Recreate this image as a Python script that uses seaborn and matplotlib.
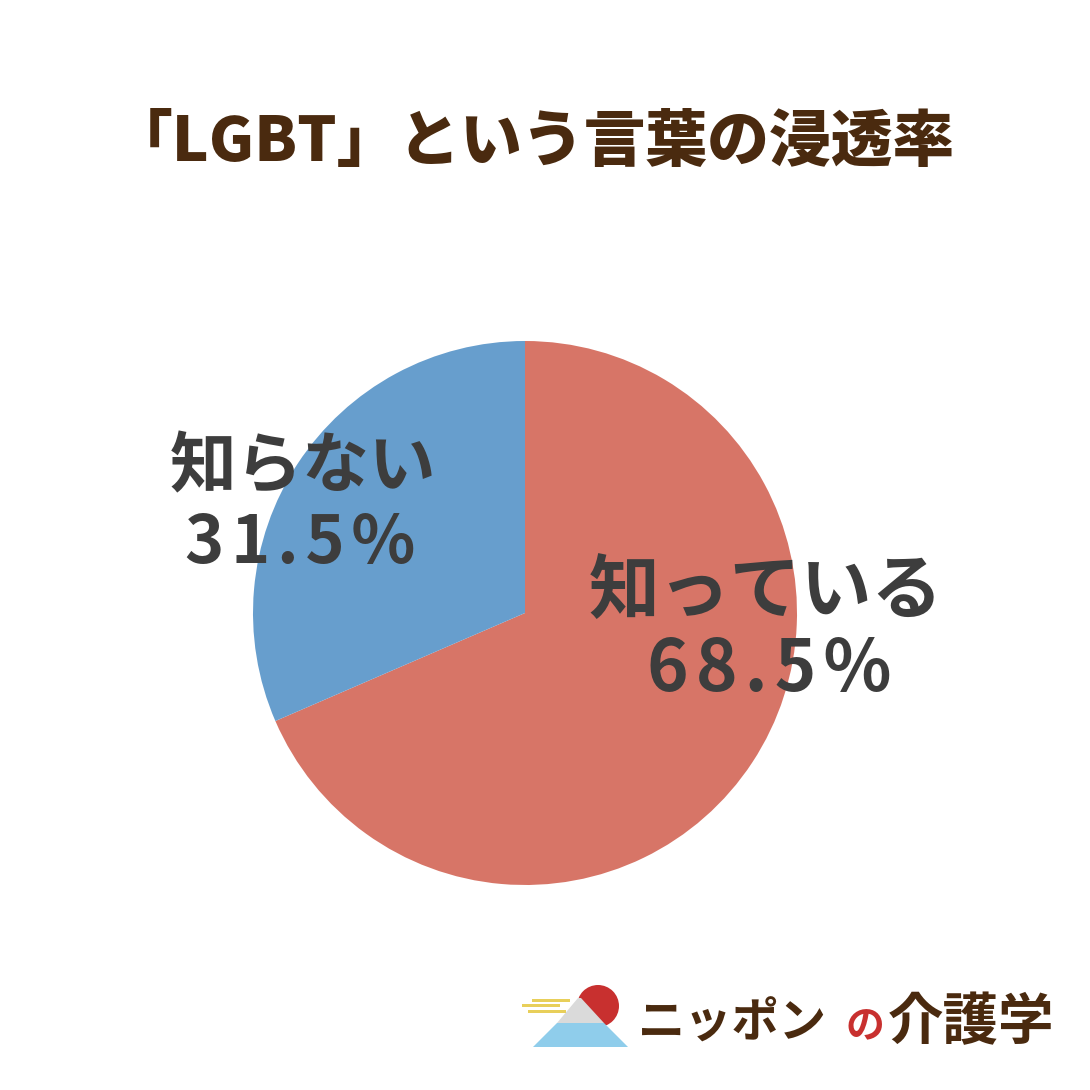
import matplotlib
matplotlib.use("Agg")
import matplotlib.pyplot as plt
import seaborn as sns
from matplotlib.patches import Circle, Polygon, Rectangle

sns.set_theme(style="white")
plt.rcParams['font.family'] = ['Noto Sans CJK JP', 'DejaVu Sans']

# data
labels = ["知っている", "知らない"]
values = [68.5, 31.5]
colors = ["#D77567", "#679ECD"]

title = "「LGBT」という言葉の浸透率"
W = H = 1090

fig = plt.figure(figsize=(10.9, 10.9), dpi=100)
fig.patch.set_facecolor("white")

# pie: centre (525, 613) px, radius 272 px
cx, cy, r = 525 / W, 1 - 613 / H, 272 / W
ax = fig.add_axes([cx - r, cy - r, 2 * r, 2 * r])
wedges, _ = ax.pie(values, colors=colors, startangle=90, counterclock=False,
                   radius=1, wedgeprops=dict(linewidth=0))
ax.set_xlim(-1, 1)
ax.set_ylim(-1, 1)
ax.set_aspect("equal")
ax.axis("off")

txt_col = "#3D3D3D"
def px(x, y):
    return x / W, 1 - y / H

def spaced(s):
    # wider tracking like the reference numbers
    return "\u200a".join(s)

fig.text(*px(766, 592), labels[0], ha="center", va="center", fontsize=51,
         fontweight="bold", color=txt_col)
fig.text(*px(769, 670), spaced(f"{values[0]}%"), ha="center", va="center",
         fontsize=51, fontweight="bold", color=txt_col)
fig.text(*px(303, 468), labels[1], ha="center", va="center", fontsize=48,
         fontweight="bold", color=txt_col)
fig.text(*px(300, 543), spaced(f"{values[1]}%"), ha="center", va="center",
         fontsize=48, fontweight="bold", color=txt_col)

fig.text(*px(533, 143), title, ha="center", va="center", fontsize=44.5,
         fontweight="heavy", color="#4A2A0F")

# logo
la = fig.add_axes([0, 0, 1, 1], zorder=5)
la.set_xlim(0, W)
la.set_ylim(H, 0)
la.axis("off")
la.patch.set_alpha(0)
la.add_patch(Circle((598, 1006), 21, color="#C8302F", lw=0))
la.add_patch(Polygon([(533, 1047), (628, 1047), (604, 1023), (557, 1023)],
                     closed=True, color="#8FCDEB", lw=0))
la.add_patch(Polygon([(557, 1023), (604, 1023), (581, 998), (578, 998)],
                     closed=True, color="#DADADA", lw=0))
for (x0, x1, y) in [(532, 570, 1000), (522, 560, 1005), (528, 566, 1011)]:
    la.add_patch(Rectangle((x0, y - 1.5), x1 - x0, 3.5, color="#E8CF5A", lw=0))
la.text(638, 1024, "ニッポン", ha="left", va="center", fontsize=34,
        fontweight="bold", color="#4A2A0F")
la.text(865, 1027, "の", ha="center", va="center", fontsize=28,
        fontweight="bold", color="#C8302F")
la.text(888, 1023, "介護学", ha="left", va="center", fontsize=40,
        fontweight="bold", color="#4A2A0F")

fig.savefig("out.png", dpi=100, facecolor="white")
